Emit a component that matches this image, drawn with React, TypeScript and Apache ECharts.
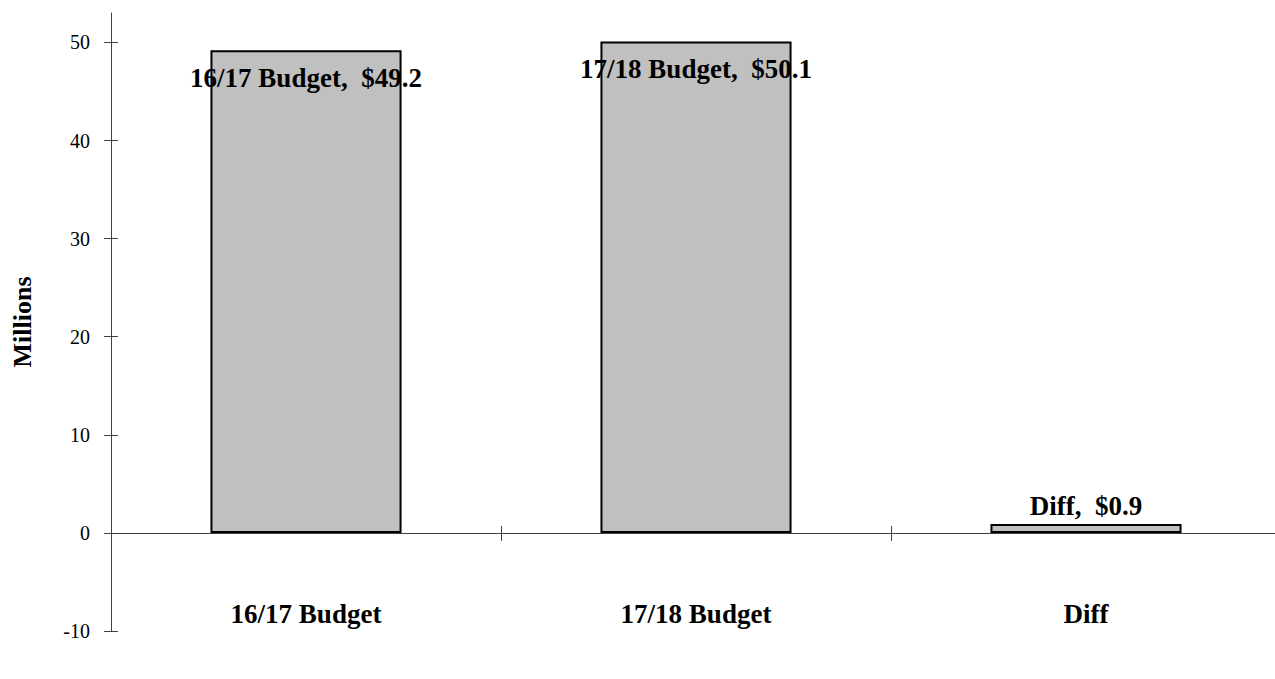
import React, { useEffect, useRef } from "react";
import * as echarts from "echarts";

// Budget comparison, in millions of dollars
const categories: string[] = ["16/17 Budget", "17/18 Budget", "Diff"];
const budgetValues: number[] = [49.2, 50.1, 0.9];
const yTickValues: number[] = [-10, 0, 10, 20, 30, 40, 50];

const FONT = '"Palatino Linotype", "Book Antiqua", Palatino, "Liberation Serif", serif';
const AXIS_COLOR = "#404040";

export default function App() {
  const ref = useRef<HTMLDivElement>(null);

  useEffect(() => {
    if (!ref.current) return;
    const chart = echarts.init(ref.current, undefined, { renderer: "svg" });

    const barData = budgetValues.map((v) => ({
      value: v,
      label:
        v < 5
          ? { position: "top", distance: 5 }
          : { position: "insideTop", distance: 14 },
    }));

    chart.setOption({
      animation: false,
      backgroundColor: "#ffffff",
      textStyle: { fontFamily: FONT },
      grid: {
        left: 111,
        right: -6,
        top: 13,
        bottom: 48,
        containLabel: false,
        outerBoundsMode: "none",
      },
      xAxis: [
        {
          // main category axis, sitting on zero
          type: "category",
          position: "bottom",
          data: categories,
          axisLine: { onZero: true, lineStyle: { color: AXIS_COLOR, width: 1 } },
          axisTick: { show: true, inside: false, length: 8, lineStyle: { color: AXIS_COLOR } },
          axisLabel: { show: false },
          splitLine: { show: false },
        },
        {
          // category names along the bottom
          type: "category",
          position: "bottom",
          data: categories,
          offset: -17,
          axisLine: { show: false, onZero: false },
          axisTick: { show: false },
          axisLabel: {
            show: true,
            margin: 0,
            verticalAlign: "middle",
            color: "#000",
            fontFamily: FONT,
            fontWeight: "bold",
            fontSize: 27,
          },
        },
        {
          // upward half of the crossing ticks on the zero line
          type: "category",
          position: "bottom",
          data: categories,
          axisLine: { show: false, onZero: true },
          axisTick: { show: true, inside: true, length: 7, lineStyle: { color: AXIS_COLOR } },
          axisLabel: { show: false },
        },
      ],
      yAxis: [
        {
          type: "value",
          position: "left",
          min: -10,
          max: 53,
          interval: 10,
          name: "Millions",
          nameLocation: "middle",
          nameGap: 76,
          nameTextStyle: { fontFamily: FONT, fontWeight: "bold", fontSize: 26, color: "#000" },
          axisLine: { show: true, onZero: false, lineStyle: { color: AXIS_COLOR, width: 1 } },
          axisTick: { show: true, inside: false, length: 7, customValues: yTickValues, lineStyle: { color: AXIS_COLOR } },
          axisLabel: { customValues: yTickValues, margin: 21, color: "#000", fontFamily: FONT, fontSize: 20 },
          splitLine: { show: false },
        },
        {
          // right half of the crossing ticks
          type: "value",
          position: "left",
          min: -10,
          max: 53,
          interval: 10,
          axisLine: { show: false, onZero: false },
          axisTick: { show: true, inside: true, length: 7, customValues: yTickValues, lineStyle: { color: AXIS_COLOR } },
          axisLabel: { show: false },
          splitLine: { show: false },
        },
      ],
      series: [
        {
          type: "bar",
          xAxisIndex: 0,
          yAxisIndex: 0,
          data: barData,
          barWidth: "49%",
          itemStyle: { color: "#c0c0c0", borderColor: "#000", borderWidth: 2 },
          label: {
            show: true,
            color: "#000",
            fontFamily: FONT,
            fontWeight: "bold",
            fontSize: 27,
            formatter: (p: any) => `${p.name},  $${Number(p.value).toFixed(1)}`,
          },
        },
      ],
    });

    return () => chart.dispose();
  }, []);

  return (
    <div
      ref={ref}
      style={{ position: "absolute", left: 0, top: 0, width: 1275, height: 679 }}
    />
  );
}
